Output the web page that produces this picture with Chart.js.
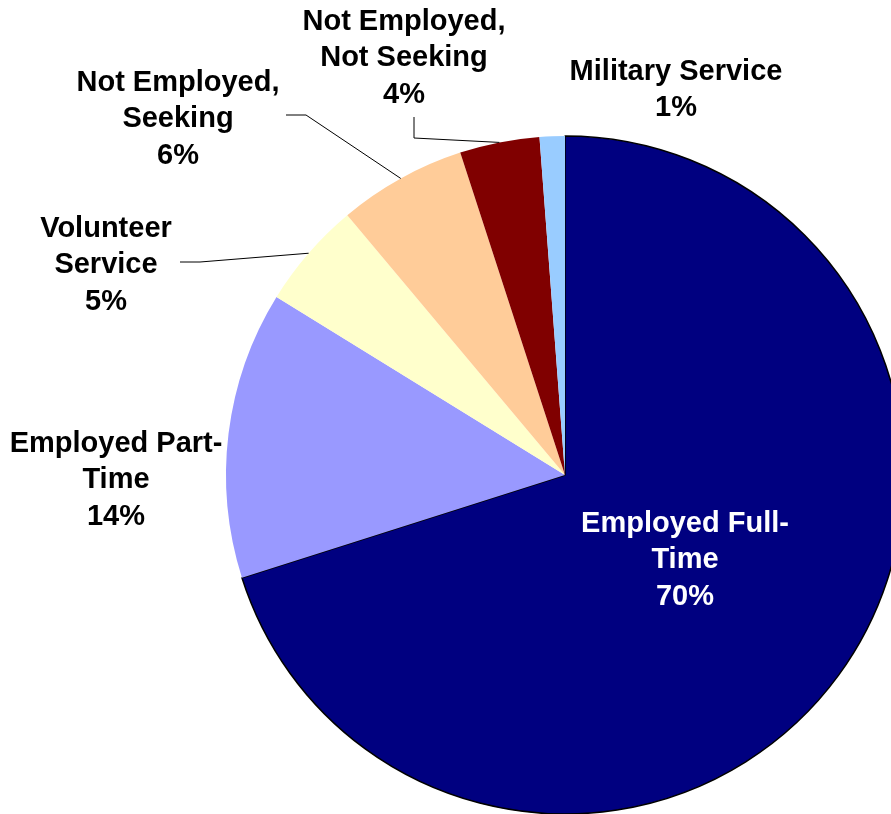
<!DOCTYPE html>
<html>
<head>
<meta charset="utf-8">
<script src="https://cdn.jsdelivr.net/npm/chart.js@4.4.1/dist/chart.umd.min.js"></script>
<style>
  html, body { margin: 0; padding: 0; background: #ffffff; }
  #wrap { width: 891px; height: 814px; }
</style>
</head>
<body>
<div id="wrap"><canvas id="c" width="891" height="814"></canvas></div>
<script>
// ---- data ----
const categories = ['Employed Full-Time', 'Employed Part-Time', 'Volunteer Service', 'Not Employed, Seeking', 'Not Employed, Not Seeking', 'Military Service'];
const values = [70.1, 13.7, 5.1, 6.1, 3.8, 1.2];
const labelLines = [
  ['Employed Full-', 'Time'],
  ['Employed Part-', 'Time'],
  ['Volunteer', 'Service'],
  ['Not Employed,', 'Seeking'],
  ['Not Employed,', 'Not Seeking'],
  ['Military Service']
];

// ---- styles / layout ----
const colors = ['#000080', '#9999FF', '#FFFFCC', '#FFCC99', '#800000', '#99CCFF'];
const borderColors = ['#000000', '#9999FF', '#FFFFCC', '#FFCC99', '#800000', '#99CCFF'];
const borderWidths = [1.5, 0, 0, 0, 0, 0];
const labelColors = ['#ffffff', '#000000', '#000000', '#000000', '#000000', '#000000'];
// centre of each label text block (px)
const labelCenters = [[685, 560], [116, 480], [106, 265], [178, 119], [404, 58], [676, 90]];
// leader lines: start point and elbow point near the label (null = no leader)
const leaderStarts = [null, null, [[180, 262], [200, 262]], [[286, 115], [306, 115]], [[414, 117], [414, 138]], null];

const total = values.reduce((a, b) => a + b, 0);

const labelPlugin = {
  id: 'sliceLabels',
  afterDatasetsDraw(chart) {
    const ctx = chart.ctx;
    const meta = chart.getDatasetMeta(0);
    ctx.save();
    // leader lines
    ctx.strokeStyle = '#000000';
    ctx.lineWidth = 1;
    meta.data.forEach((arc, i) => {
      const ls = leaderStarts[i];
      if (!ls) return;
      const p = arc.getProps(['x', 'y', 'startAngle', 'endAngle', 'outerRadius'], true);
      const mid = (p.startAngle + p.endAngle) / 2;
      const ex = p.x + Math.cos(mid) * p.outerRadius;
      const ey = p.y + Math.sin(mid) * p.outerRadius;
      ctx.beginPath();
      ctx.moveTo(ls[0][0], ls[0][1]);
      ctx.lineTo(ls[1][0], ls[1][1]);
      ctx.lineTo(ex, ey);
      ctx.stroke();
    });
    // text
    ctx.font = 'bold 29px "Liberation Sans", Arial, sans-serif';
    ctx.textAlign = 'center';
    ctx.textBaseline = 'middle';
    const lh = 36.5;
    labelLines.forEach((lines, i) => {
      const all = lines.concat([Math.round(values[i] / total * 100) + '%']);
      const [cx, cy] = labelCenters[i];
      const y0 = cy - (all.length - 1) * lh / 2;
      ctx.fillStyle = labelColors[i];
      all.forEach((t, k) => ctx.fillText(t, cx, y0 + k * lh));
    });
    ctx.restore();
  }
};

new Chart(document.getElementById('c'), {
  type: 'pie',
  data: {
    labels: categories,
    datasets: [{
      data: values,
      backgroundColor: colors,
      borderColor: borderColors,
      borderWidth: borderWidths
    }]
  },
  options: {
    responsive: false,
    animation: false,
    radius: 339,
    layout: { padding: { left: 239, right: 0, top: 136, bottom: 0 } },
    plugins: {
      legend: { display: false },
      tooltip: { enabled: false }
    }
  },
  plugins: [labelPlugin]
});
</script>
</body>
</html>
